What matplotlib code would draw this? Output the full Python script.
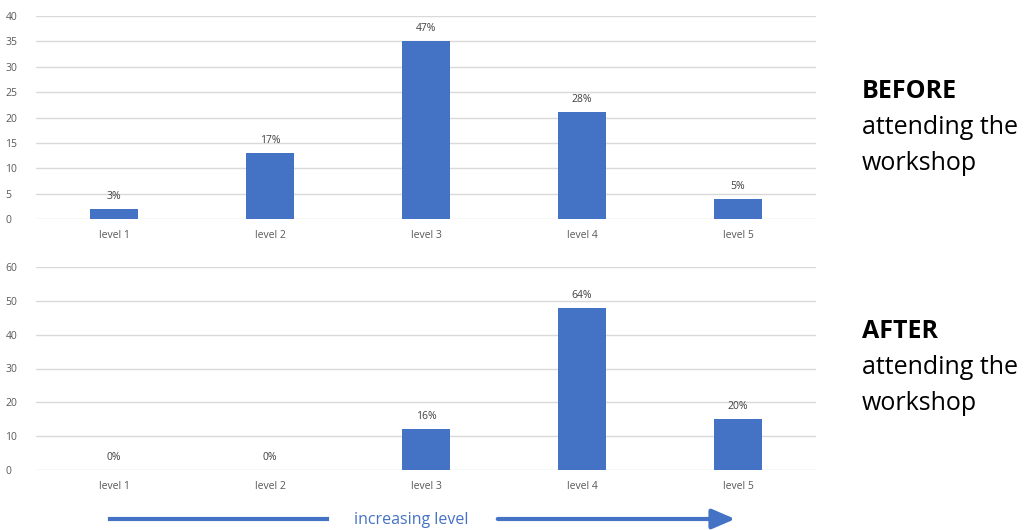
import matplotlib.pyplot as plt
from matplotlib.patches import FancyArrowPatch

levels = ["level 1", "level 2", "level 3", "level 4", "level 5"]
before = [2, 13, 35, 21, 4]
before_pct = ["3%", "17%", "47%", "28%", "5%"]
after = [0, 0, 12, 48, 15]
after_pct = ["0%", "0%", "16%", "64%", "20%"]

blue = "#4472c4"
grid = "#d9d9d9"
tick = "#595959"

plt.rcParams['font.family'] = ['Open Sans', 'DejaVu Sans']

fig = plt.figure(figsize=(10.32, 5.30), dpi=100)
W, H = 1032, 530


def make_ax(top_px, bottom_px, vals, pcts, ymax, step):
    ax = fig.add_axes([36 / W, 1 - bottom_px / H, 780 / W, (bottom_px - top_px) / H])
    x = range(len(levels))
    ax.bar(x, vals, width=0.31, color=blue, zorder=3)
    for i, (v, p) in enumerate(zip(vals, pcts)):
        ax.annotate(p, (i, v), xytext=(0, 5), textcoords="offset points",
                    ha="center", va="bottom", fontsize=7.5, color="#404040")
    ax.set_xlim(-0.5, len(levels) - 0.5)
    ax.set_ylim(0, ymax)
    ax.set_yticks(range(0, ymax + 1, step))
    ax.set_xticks(list(x))
    ax.set_xticklabels(levels)
    ax.yaxis.grid(True, color=grid, lw=1, zorder=0)
    for s in ax.spines.values():
        s.set_visible(False)
    ax.tick_params(length=0, labelsize=7.5, colors=tick)
    ax.tick_params(axis="y", pad=22)
    ax.tick_params(axis="x", pad=8)
    for lab in ax.get_yticklabels():
        lab.set_horizontalalignment("left")
    return ax


make_ax(16, 219, before, before_pct, 40, 5)
make_ax(267, 470, after, after_pct, 60, 10)

fs = 18
fig.text(862 / W, 1 - 92 / H, "BEFORE", fontsize=fs, fontweight="bold", va="center", color="black")
fig.text(862 / W, 1 - 127 / H, "attending the", fontsize=fs, va="center", color="black")
fig.text(862 / W, 1 - 163 / H, "workshop", fontsize=fs, va="center", color="black")
fig.text(862 / W, 1 - 331 / H, "AFTER", fontsize=fs, fontweight="bold", va="center", color="black")
fig.text(862 / W, 1 - 367 / H, "attending the", fontsize=fs, va="center", color="black")
fig.text(862 / W, 1 - 404 / H, "workshop", fontsize=fs, va="center", color="black")

# increasing-level arrow
fig.add_artist(plt.Line2D([110 / W, 327 / W], [1 - 519 / H] * 2, color=blue, lw=3,
                          transform=fig.transFigure))
fig.text(411 / W, 1 - 520 / H, "increasing level", fontsize=11.5, color=blue, ha="center", va="center")
fig.add_artist(FancyArrowPatch((495 / W, 1 - 519 / H), (738 / W, 1 - 519 / H),
                               transform=fig.transFigure, arrowstyle="-|>,head_length=14,head_width=6",
                               color=blue, lw=3, mutation_scale=1))

fig.savefig("out.png", dpi=100)
